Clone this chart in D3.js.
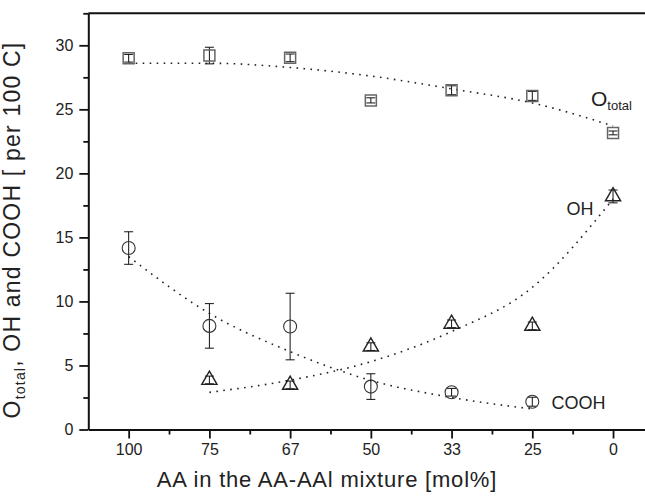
<!DOCTYPE html>
<html><head><meta charset="utf-8">
<script src="https://cdn.jsdelivr.net/npm/d3@7"></script>
<style>
body{margin:0;background:#fff;}
svg{display:block;font-family:"Liberation Sans",Arial,sans-serif;}
</style></head>
<body><svg id="c" width="645" height="499"></svg>
<script>
const categories = ["100","75","67","50","33","25","0"];
const oTotal    = [28.99, 29.2, 29.02, 25.7, 26.49, 26.05, 23.16];
const oTotalErr = [0.3, 0.65, 0.3, 0.2, 0.35, 0.35, 0.15];
const ohVals    = [null, 3.87, 3.48, 6.47, 8.25, 8.09, 18.2];
const ohErr     = [null, 0.3, 0.3, 0.3, 0.3, 0.3, 0.5];
const coohVals  = [14.17, 8.09, 8.04, 3.35, 2.91, 2.17, null];
const coohErr   = [1.27, 1.74, 2.6, 1.0, 0.3, 0.35, null];
const oTotalFit = [28.6, 28.6, 28.27, 27.6, 26.6, 25.5, 23.7];
const ohFit     = [null, 2.9, 3.85, 5.3, 7.65, 11.1, 18.0];
const coohFit   = [13.5, 9.07, 6.08, 3.83, 2.5, 1.6, null];
const yTicks = [0,5,10,15,20,25,30];

const svg = d3.select("#c");
const x = d3.scaleLinear().domain([-0.5, 6.5]).range([88.3, 653.4]);
const y = d3.scaleLinear().domain([0, 32.5]).range([429.5, 13.3]);

// fits
const line = d3.line().defined(d => d.v != null).x(d => x(d.i)).y(d => y(d.v)).curve(d3.curveMonotoneX);
[oTotalFit, ohFit, coohFit].forEach(arr => {
  const pts = arr.map((v,i)=>({i,v})).filter(d=>d.v!=null);
  svg.append("path").attr("d", line(pts)).attr("fill","none")
    .attr("stroke","#222").attr("stroke-width",1.6).attr("stroke-dasharray","1.6,5.4");
});

// error bars
function errBars(vals, errs) {
  const g = svg.append("g").attr("stroke","#111").attr("stroke-width",1);
  vals.forEach((v,i) => {
    if (v == null) return;
    const e = errs[i], cx = x(i);
    g.append("line").attr("x1",cx).attr("x2",cx).attr("y1",y(v+e)).attr("y2",y(v-e));
    g.append("line").attr("x1",cx-4.5).attr("x2",cx+4.5).attr("y1",y(v+e)).attr("y2",y(v+e));
    g.append("line").attr("x1",cx-4.5).attr("x2",cx+4.5).attr("y1",y(v-e)).attr("y2",y(v-e));
  });
}
errBars(oTotal, oTotalErr);
errBars(ohVals, ohErr);
errBars(coohVals, coohErr);

// markers
const sq = d3.symbol().type(d3.symbolSquare).size(121);
oTotal.forEach((v,i)=>{
  svg.append("path").attr("d", sq()).attr("transform",`translate(${x(i)},${y(v)})`)
    .attr("fill","none").attr("stroke","#666").attr("stroke-width",1.5);
});
const tri = d3.symbol().type(d3.symbolTriangle).size(100);
ohVals.forEach((v,i)=>{
  if (v==null) return;
  svg.append("path").attr("d", tri()).attr("transform",`translate(${x(i)},${y(v)})`)
    .attr("fill","none").attr("stroke","#222").attr("stroke-width",1.4);
});
coohVals.forEach((v,i)=>{
  if (v==null) return;
  svg.append("circle").attr("cx",x(i)).attr("cy",y(v)).attr("r",6.5)
    .attr("fill","none").attr("stroke","#333").attr("stroke-width",1.1);
});

// axes
const xAxis = d3.axisBottom(x).tickValues(d3.range(0,7)).tickFormat(i=>categories[i]).tickSize(9).tickSizeOuter(0).tickPadding(5);
const gx = svg.append("g").attr("transform","translate(0,429.5)").call(xAxis);
const xMinor = d3.axisBottom(x).tickValues(d3.range(0.5,6.5,1)).tickFormat("").tickSize(5).tickSizeOuter(0);
const gxm = svg.append("g").attr("transform","translate(0,429.5)").call(xMinor);
gxm.select(".domain").remove();
const yAxis = d3.axisLeft(y).tickValues(yTicks).tickSize(9).tickSizeOuter(0).tickPadding(6);
const gy = svg.append("g").attr("transform","translate(88.3,0)").call(yAxis);
const yMinor = d3.axisLeft(y).tickValues(yTicks.map(t=>t+2.5)).tickFormat("").tickSize(5).tickSizeOuter(0);
const gym = svg.append("g").attr("transform","translate(88.3,0)").call(yMinor);
gym.select(".domain").remove();
svg.selectAll(".domain").attr("stroke","#111").attr("stroke-width",2);
svg.selectAll(".tick line").attr("stroke","#111").attr("stroke-width",1.8);
svg.selectAll(".tick text").attr("font-size",16).attr("fill","#222").attr("font-family","Liberation Sans, Arial, sans-serif");
// top frame line
svg.append("line").attr("x1",x(-0.5)).attr("x2",x(6.5)).attr("y1",y(32.5)).attr("y2",y(32.5))
  .attr("stroke","#111").attr("stroke-width",2);

// series labels
const t1 = svg.append("text").attr("x",591).attr("y",106).attr("font-size",21).attr("fill","#222");
t1.append("tspan").text("O");
t1.append("tspan").attr("font-size",13).attr("dy",4).text("total");
svg.append("text").attr("x",566.5).attr("y",215).attr("font-size",18).attr("fill","#222").text("OH");
svg.append("text").attr("x",551.5).attr("y",408.5).attr("font-size",18).attr("fill","#222").text("COOH");

// axis titles
svg.append("text").attr("x",327).attr("y",487).attr("text-anchor","middle").attr("font-size",22)
  .attr("letter-spacing",0.8).attr("fill","#222")
  .text("AA in the AA-AAl mixture [mol%]");
const yl = svg.append("text").attr("transform","translate(20,230) rotate(-90)").attr("text-anchor","middle")
  .attr("font-size",23).attr("letter-spacing",1.2).attr("fill","#222");
yl.append("tspan").text("O");
yl.append("tspan").attr("font-size",14).attr("dy",5).text("total");
yl.append("tspan").attr("dy",-5).text(", OH and COOH [ per 100 C]");
</script></body></html>
